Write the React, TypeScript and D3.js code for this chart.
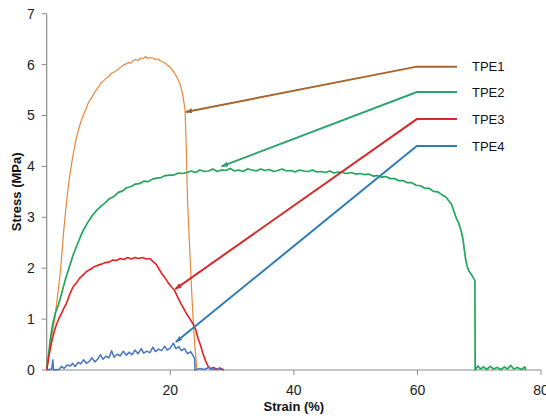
import React from "react";
import * as d3 from "d3";

const W = 546;
const H = 416;

const xTicks = [20, 40, 60, 80];
const yTicks = [0, 1, 2, 3, 4, 5, 6, 7];

const seriesNames = ["TPE1", "TPE2", "TPE3", "TPE4"];
const curveColors = ["#E8873A", "#1FA85A", "#E3221F", "#4673C6"];
const calloutColors = ["#A8652E", "#2EA46C", "#D52B2B", "#2E7DB5"];

// TPE1 (strain %, stress MPa)
const tpe1: [number, number][] = [
  [0, 0], [0.4, 0.35], [0.7, 0.55], [1.0, 0.8], [1.3, 1.0], [1.6, 1.3], [1.9, 1.6], [2.2, 1.92],
  [2.4, 2.2], [2.6, 2.5], [2.8, 2.8], [3.05, 3.1], [3.3, 3.4], [3.6, 3.7], [3.9, 3.95],
  [4.2, 4.18], [4.5, 4.38], [4.8, 4.55], [5.2, 4.75], [5.6, 4.9], [6.0, 5.03], [6.4, 5.14],
  [6.8, 5.27], [7.2, 5.33], [7.6, 5.42], [8.0, 5.5], [8.4, 5.56], [8.8, 5.64], [9.2, 5.68],
  [9.6, 5.73], [10.0, 5.76], [10.5, 5.83], [11.0, 5.86], [11.5, 5.9], [12.0, 5.95], [12.4, 5.99],
  [12.8, 6.01], [13.2, 6.04], [13.6, 6.03], [14.0, 6.08], [14.4, 6.1], [14.8, 6.08], [15.2, 6.13],
  [15.6, 6.12], [16.0, 6.16], [16.4, 6.12], [16.8, 6.14], [17.2, 6.13], [17.6, 6.1], [18.0, 6.11],
  [18.4, 6.07], [18.8, 6.05], [19.2, 6.03], [19.6, 5.98], [20.0, 5.95], [20.4, 5.88], [20.8, 5.81],
  [21.2, 5.72], [21.6, 5.61], [21.9, 5.47], [22.15, 5.3], [22.4, 5.1], [22.6, 4.3], [22.8, 3.3],
  [23.1, 2.5], [23.4, 1.7], [23.7, 1.0], [24.0, 0.45], [24.3, 0],
];

// TPE2
const tpe2: [number, number][] = [
  [0, 0], [0.3, 0.3], [0.6, 0.62], [1.0, 0.92], [1.4, 1.12], [1.9, 1.28], [2.4, 1.5], [3.0, 1.77],
  [3.6, 2.0], [4.3, 2.27], [5.0, 2.48], [5.5, 2.63], [5.9, 2.74], [6.6, 2.89], [7.3, 3.02],
  [8.1, 3.14], [8.8, 3.22], [9.5, 3.29], [10.2, 3.37], [10.9, 3.41], [11.6, 3.49], [12.3, 3.52],
  [12.9, 3.58], [13.6, 3.6], [14.3, 3.65], [15.0, 3.66], [15.7, 3.71], [16.4, 3.7], [17.1, 3.75],
  [17.8, 3.77], [18.5, 3.78], [19.2, 3.82], [19.9, 3.83], [20.6, 3.83], [21.3, 3.87], [22.0, 3.86],
  [22.7, 3.88], [23.4, 3.91], [24.1, 3.88], [24.8, 3.93], [25.5, 3.9], [26.2, 3.91], [26.9, 3.95],
  [27.6, 3.9], [28.3, 3.93], [29.0, 3.92], [29.7, 3.96], [30.4, 3.91], [31.1, 3.93], [31.8, 3.9],
  [32.5, 3.95], [33.2, 3.93], [33.9, 3.91], [34.6, 3.95], [35.3, 3.92], [36.0, 3.94], [36.7, 3.9],
  [37.4, 3.92], [38.1, 3.95], [38.8, 3.91], [39.5, 3.92], [40.2, 3.89], [40.9, 3.93], [41.6, 3.91],
  [42.3, 3.9], [43.0, 3.93], [43.7, 3.89], [44.4, 3.9], [45.1, 3.88], [45.8, 3.91], [46.5, 3.87],
  [47.2, 3.89], [47.9, 3.88], [48.6, 3.86], [49.3, 3.88], [50.0, 3.85], [50.7, 3.86], [51.4, 3.84],
  [52.1, 3.85], [52.8, 3.81], [53.5, 3.82], [54.2, 3.79], [54.9, 3.8], [55.6, 3.76], [56.3, 3.76],
  [57.0, 3.72], [57.7, 3.72], [58.4, 3.68], [59.1, 3.68], [59.8, 3.63], [60.5, 3.62], [61.2, 3.57],
  [61.9, 3.57], [62.6, 3.51], [63.3, 3.5], [64.0, 3.44], [64.6, 3.4], [65.1, 3.32], [65.5, 3.26],
  [65.9, 3.12], [66.3, 2.98], [66.7, 2.88], [67.1, 2.72], [67.4, 2.55], [67.6, 2.35], [67.8, 2.18],
  [68.0, 2.06], [68.3, 1.95], [68.7, 1.88], [69.1, 1.8], [69.3, 1.76], [69.35, 0], [69.8, 0.08],
  [70.2, 0.02], [70.7, 0.06], [71.2, 0.01], [71.8, 0.07], [72.3, 0.02], [72.9, 0.05], [73.5, 0.01],
  [74.1, 0.06], [74.6, 0.02], [75.1, 0.09], [75.6, 0.02], [76.2, 0.05], [76.8, 0.01], [77.4, 0.06],
  [77.5, 0],
];

// TPE3
const tpe3: [number, number][] = [
  [0, 0], [0.4, 0.3], [0.8, 0.55], [1.2, 0.75], [1.6, 0.9], [2.0, 1.02], [2.4, 1.11], [2.8, 1.22],
  [3.2, 1.31], [3.7, 1.48], [4.3, 1.64], [4.8, 1.71], [5.3, 1.8], [5.9, 1.87], [6.5, 1.94],
  [7.1, 1.98], [7.7, 2.03], [8.3, 2.06], [8.9, 2.08], [9.5, 2.11], [10.1, 2.12], [10.7, 2.16],
  [11.3, 2.15], [11.9, 2.19], [12.5, 2.17], [13.1, 2.21], [13.7, 2.18], [14.3, 2.21], [14.9, 2.19],
  [15.5, 2.21], [16.1, 2.18], [16.7, 2.19], [17.2, 2.13], [17.7, 2.08], [18.2, 1.98], [18.7, 1.88],
  [19.2, 1.8], [19.7, 1.71], [20.2, 1.63], [20.7, 1.56], [21.2, 1.43], [21.7, 1.31], [22.2, 1.2],
  [22.7, 1.09], [23.2, 1.0], [23.7, 0.9], [24.1, 0.8], [24.5, 0.62], [24.9, 0.48], [25.3, 0.32],
  [25.7, 0.18], [26.1, 0.08], [26.5, 0.02], [27.0, 0.05], [27.5, 0.01], [28.0, 0.04], [28.7, 0],
];

// TPE4
const tpe4: [number, number][] = [
  [0, 0], [0.8, 0.02], [1.0, 0.2], [1.1, 0], [2.0, 0.01], [2.4, 0.07], [2.8, 0.03], [3.3, 0.1],
  [3.8, 0.08], [4.2, 0.13], [4.6, 0.07], [5.1, 0.15], [5.5, 0.12], [6.0, 0.2], [6.4, 0.13],
  [6.9, 0.17], [7.3, 0.24], [7.8, 0.16], [8.3, 0.22], [8.7, 0.3], [9.1, 0.21], [9.6, 0.27],
  [10.1, 0.24], [10.5, 0.38], [10.9, 0.25], [11.4, 0.31], [11.9, 0.28], [12.4, 0.37], [12.9, 0.29],
  [13.3, 0.35], [13.8, 0.3], [14.3, 0.39], [14.8, 0.32], [15.3, 0.42], [15.7, 0.33], [16.2, 0.37],
  [16.7, 0.34], [17.2, 0.45], [17.6, 0.36], [18.1, 0.41], [18.6, 0.38], [19.1, 0.47], [19.5, 0.39],
  [20.0, 0.43], [20.5, 0.53], [20.9, 0.42], [21.4, 0.46], [21.8, 0.38], [22.3, 0.42], [22.8, 0.32],
  [23.3, 0.36], [23.7, 0.28], [23.95, 0.22], [24.0, 0], [24.8, 0.03], [25.5, 0.01], [26.2, 0.05],
  [27.0, 0.01], [28.0, 0.03], [28.2, 0],
];

// callout leader lines (data units): tip, corner, end
const calloutTips: [number, number][] = [[22.5, 5.07], [28.3, 4.0], [20.8, 1.59], [20.9, 0.55]];
const calloutLevels = [5.96, 5.46, 4.93, 4.4];
const calloutCornerX = 59.9;
const calloutEndX = 66.4;

const curves = [tpe1, tpe2, tpe3, tpe4];
const curveWidths = [1.2, 1.7, 1.6, 1.5];

export default function App() {
  const x = d3.scaleLinear().domain([0, 80]).range([46.7, 541]);
  const y = d3.scaleLinear().domain([0, 7]).range([370, 13.7]);
  const line = d3
    .line<[number, number]>()
    .x((d) => x(d[0]))
    .y((d) => y(d[1]));

  const font = "'Liberation Sans', Arial, sans-serif";
  const axisColor = "#8C8C8C";

  return (
    <svg
      width={W}
      height={H}
      style={{ position: "absolute", left: 0, top: 0, background: "#fff" }}
      fontFamily={font}
    >
      <defs>
        {calloutColors.map((c, i) => (
          <marker
            key={i}
            id={`arr${i}`}
            viewBox="0 0 10 10"
            refX="9"
            refY="5"
            markerWidth="3.6"
            markerHeight="3.6"
            orient="auto-start-reverse"
          >
            <path d="M0,1.5 L10,5 L0,8.5 z" fill={c} />
          </marker>
        ))}
      </defs>

      {/* axes */}
      <line x1={x(0)} x2={x(0)} y1={y(0)} y2={y(7)} stroke={axisColor} strokeWidth={1.2} />
      <line x1={x(0)} x2={x(80)} y1={y(0)} y2={y(0)} stroke={axisColor} strokeWidth={1.2} />
      {yTicks.map((t) => (
        <g key={t}>
          <line x1={x(0) - 5} x2={x(0)} y1={y(t)} y2={y(t)} stroke={axisColor} strokeWidth={1} />
          <text x={x(0) - 12} y={y(t)} dy="0.35em" textAnchor="end" fontSize={14} fill="#222">
            {t}
          </text>
        </g>
      ))}
      {xTicks.map((t) => (
        <g key={t}>
          <line x1={x(t)} x2={x(t)} y1={y(0)} y2={y(0) + 5} stroke={axisColor} strokeWidth={1} />
          <text x={x(t)} y={y(0) + 20} dy="0.35em" textAnchor="middle" fontSize={14} fill="#222">
            {t}
          </text>
        </g>
      ))}
      <text x={x(40)} y={406} dy="0.35em" textAnchor="middle" fontSize={13} fontWeight="bold" fill="#111">
        Strain (%)
      </text>
      <text
        transform={`translate(16,${(y(0) + y(7)) / 2}) rotate(-90)`}
        dy="0.35em"
        textAnchor="middle"
        fontSize={13}
        fontWeight="bold"
        fill="#111"
      >
        Stress (MPa)
      </text>

      {/* curves */}
      {curves.map((c, i) => (
        <path
          key={i}
          d={line(c) || ""}
          fill="none"
          stroke={curveColors[i]}
          strokeWidth={curveWidths[i]}
          strokeLinejoin="round"
        />
      ))}

      {/* callouts */}
      {calloutTips.map((tip, i) => {
        const pts: [number, number][] = [
          [calloutEndX, calloutLevels[i]],
          [calloutCornerX, calloutLevels[i]],
          tip,
        ];
        return (
          <g key={i}>
            <path
              d={line(pts) || ""}
              fill="none"
              stroke={calloutColors[i]}
              strokeWidth={2}
              markerEnd={`url(#arr${i})`}
            />
            <text
              x={x(calloutEndX) + 15}
              y={y(calloutLevels[i])}
              dy="0.35em"
              fontSize={13}
              fill="#111"
            >
              {seriesNames[i]}
            </text>
          </g>
        );
      })}
    </svg>
  );
}
